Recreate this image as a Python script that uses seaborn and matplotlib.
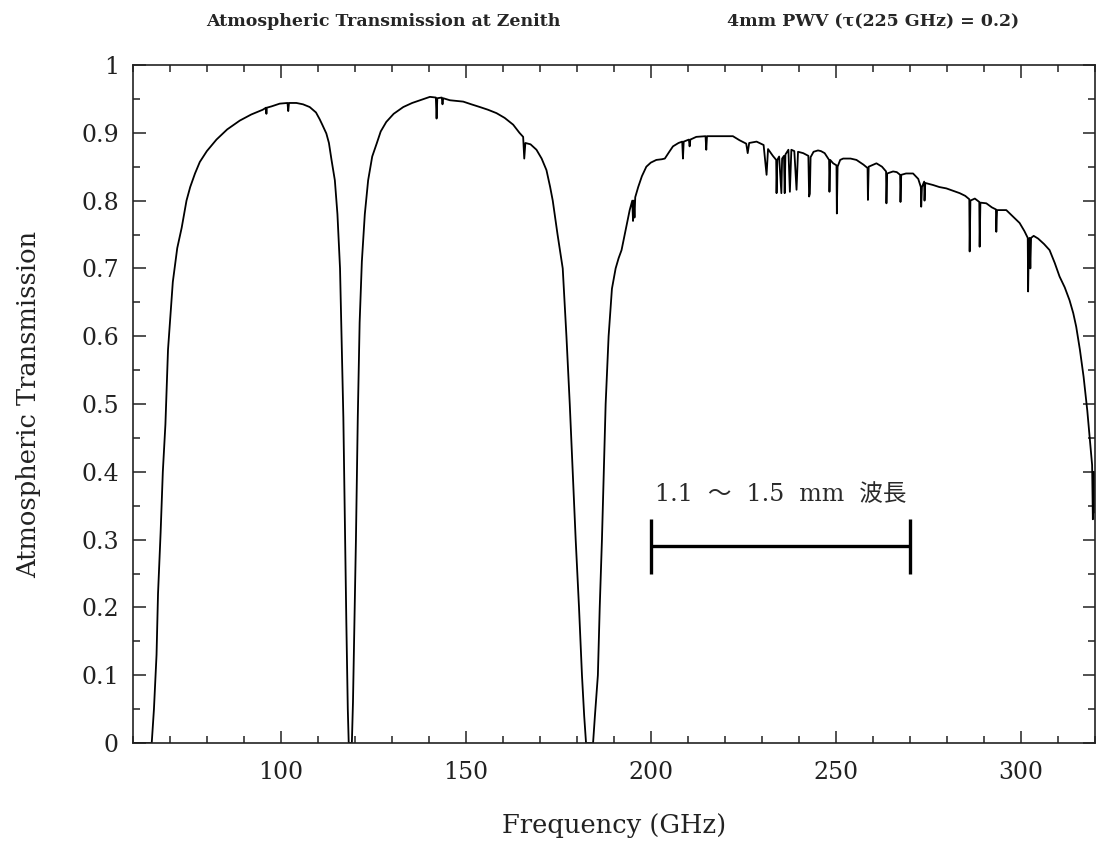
import numpy as np
import pandas as pd
import matplotlib
matplotlib.use("Agg")
import matplotlib.pyplot as plt
from matplotlib.ticker import MultipleLocator, FuncFormatter
import seaborn as sns

# transmission curve (GHz, transmission)
freq = [60.0, 64.8, 65.1, 65.7, 66.4, 66.8, 67.5, 68.1, 68.8, 69.5, 70.8, 72.0, 73.2, 74.5,
        75.5, 76.8, 78.1, 80.0, 82.6, 85.5, 88.9, 92.0, 95.1, 96.0, 96.1, 96.2, 97.5, 99.7,
        101.8, 102.0, 102.2, 104.2, 106.0, 107.8, 109.5, 110.5, 111.2, 112.3, 113.0,
        113.7, 114.6, 115.3, 116.0, 116.5, 116.9, 117.3, 117.7, 118.1, 118.35,
        119.2, 119.5, 119.9, 120.3, 120.8, 121.3, 121.9, 122.7, 123.6, 124.7, 125.9,
        127.0, 128.5, 130.5, 133.1, 135.5, 137.6, 140.3, 141.9, 142.1, 142.3, 143.5,
        143.7, 143.9, 145.7, 147.5, 149.3, 151.5, 153.8, 156.0, 158.3, 160.5, 162.8,
        164.5, 165.5, 165.8, 166.1, 167.5, 169.1, 170.5, 171.8, 172.8, 173.5, 174.8,
        176.2, 177.2, 178.1, 178.9, 179.7, 180.6, 181.4, 182.0, 182.5,
        184.4, 184.9, 185.7, 186.2, 186.8, 187.3, 187.8, 188.6, 189.5, 190.5, 191.3,
        192.1, 193.4, 194.3, 195.0, 195.2, 195.4, 195.6, 195.8, 196.6, 197.6, 198.8,
        200.0, 201.5, 203.0, 203.8, 205.0, 206.0, 207.5, 208.5, 208.7, 208.9, 210.3,
        210.5, 210.7, 212.3, 214.8, 215.0, 215.2, 218.6, 222.2, 224.0, 225.8, 226.2,
        226.6, 228.6, 230.5, 231.3, 231.7,
        233.0, 233.9, 234.0, 234.2, 234.7, 235.3, 235.5, 236.0, 236.2, 236.4, 237.2,
        237.6, 238.0, 238.8, 239.4, 239.8, 241.2, 242.6, 242.8, 243.0, 243.2, 244.0,
        245.2, 246.0, 247.0, 248.2, 248.3, 248.5, 249.3, 250.2, 250.3, 250.5, 251.2,
        252.0, 254.0, 255.6, 257.5, 258.6, 258.7, 258.9, 261.0, 262.5, 263.6, 263.7,
        263.9, 265.5, 266.5, 267.4, 267.5, 267.7, 269.0, 270.9, 272.3, 273.0, 273.1,
        273.3, 273.9, 274.0, 274.2, 276.3, 278.0, 279.9, 282.0, 283.5, 285.0, 286.1,
        286.2, 286.4, 287.6, 288.8, 288.9, 289.1, 290.7, 292.2, 293.3, 293.4, 293.6,
        296.1, 298.0, 299.7, 301.0, 301.9, 302.0, 302.2, 302.4, 302.6, 302.8, 303.5,
        304.7, 306.3, 307.8, 309.2, 310.5, 311.9, 313.2, 314.2, 315.0, 316.0, 317.0,
        318.0, 318.8, 319.3, 319.5, 319.7, 320.0]
trans = [0.0, 0.0, 0.0, 0.05, 0.13, 0.22, 0.31, 0.40, 0.47, 0.58, 0.68, 0.73, 0.76, 0.80,
         0.82, 0.84, 0.857, 0.873, 0.89, 0.905, 0.918, 0.927, 0.934, 0.937, 0.928, 0.937, 0.939, 0.943,
         0.944, 0.932, 0.944, 0.944, 0.942, 0.938, 0.93, 0.92, 0.912, 0.899, 0.885,
         0.86, 0.83, 0.78, 0.70, 0.58, 0.48, 0.33, 0.18, 0.05, 0.0,
         0.0, 0.06, 0.18, 0.30, 0.48, 0.62, 0.71, 0.78, 0.83, 0.865, 0.884,
         0.902, 0.916, 0.928, 0.938, 0.944, 0.948, 0.953, 0.952, 0.921, 0.951, 0.952,
         0.942, 0.951, 0.948, 0.947, 0.946, 0.942, 0.938, 0.934, 0.929, 0.922, 0.912,
         0.90, 0.894, 0.862, 0.885, 0.883, 0.875, 0.862, 0.845, 0.82, 0.80, 0.75,
         0.70, 0.60, 0.50, 0.40, 0.30, 0.20, 0.10, 0.04, 0.0,
         0.0, 0.04, 0.10, 0.20, 0.30, 0.40, 0.50, 0.60, 0.67, 0.70, 0.715,
         0.727, 0.762, 0.786, 0.80, 0.77, 0.80, 0.775, 0.805, 0.82, 0.836, 0.85,
         0.856, 0.86, 0.861, 0.862, 0.872, 0.88, 0.885, 0.887, 0.862, 0.887, 0.89,
         0.88, 0.89, 0.894, 0.895, 0.875, 0.895, 0.895, 0.895, 0.889, 0.884, 0.87,
         0.885, 0.887, 0.882, 0.838, 0.876,
         0.866, 0.86, 0.811, 0.86, 0.865, 0.811, 0.862, 0.866, 0.811, 0.868, 0.875,
         0.813, 0.875, 0.873, 0.816, 0.872, 0.87, 0.866, 0.806, 0.81, 0.864, 0.872,
         0.874, 0.873, 0.87, 0.86, 0.813, 0.86, 0.855, 0.852, 0.781, 0.85, 0.86,
         0.862, 0.862, 0.86, 0.853, 0.848, 0.801, 0.85, 0.855, 0.85, 0.843, 0.796,
         0.84, 0.843, 0.842, 0.838, 0.798, 0.838, 0.84, 0.84, 0.832, 0.82, 0.791,
         0.82, 0.828, 0.80, 0.826, 0.823, 0.82, 0.818, 0.814, 0.811, 0.807, 0.802,
         0.725, 0.80, 0.803, 0.798, 0.732, 0.797, 0.796, 0.79, 0.787, 0.754, 0.786,
         0.786, 0.776, 0.767, 0.755, 0.745, 0.666, 0.74, 0.745, 0.70, 0.745, 0.748,
         0.744, 0.736, 0.727, 0.708, 0.688, 0.672, 0.653, 0.634, 0.614, 0.58, 0.54,
         0.49, 0.44, 0.41, 0.33, 0.40, 0.34]

# wavelength band marker
band_ghz = [200, 270]
band_level = 0.29
band_cap = [0.25, 0.33]
band_text = "1.1  ～  1.5  mm  波長"

df = pd.DataFrame({"Frequency": freq, "Transmission": trans})

sns.set_style("ticks")
plt.rcParams["font.family"] = ["DejaVu Serif", "Noto Sans CJK JP"]

fig = plt.figure(figsize=(10.98, 8.43), dpi=100)
ax = fig.add_axes([0.121, 0.1186, 0.876, 0.8043])

sns.lineplot(data=df, x="Frequency", y="Transmission", ax=ax, color="black",
             linewidth=1.3, estimator=None, sort=False)

ax.hlines(band_level, band_ghz[0], band_ghz[1], color="black", linewidth=2.4)
ax.vlines(band_ghz, band_cap[0], band_cap[1], color="black", linewidth=2.4)
ax.text(sum(band_ghz) / 2, 0.366, band_text, ha="center", va="center", fontsize=17,
        color="#2a2a2a")

ax.set_xlim(60, 320)
ax.set_ylim(0, 1)
ax.xaxis.set_major_locator(MultipleLocator(50))
ax.xaxis.set_minor_locator(MultipleLocator(10))
ax.yaxis.set_major_locator(MultipleLocator(0.1))
ax.yaxis.set_minor_locator(MultipleLocator(0.05))
ax.yaxis.set_major_formatter(FuncFormatter(lambda v, p: "%g" % round(v, 2)))
ax.tick_params(which="both", direction="in", top=True, right=True, width=1.1,
               colors="#222222", labelsize=17)
ax.tick_params(which="major", length=9)
ax.tick_params(which="minor", length=5)
ax.tick_params(axis="x", pad=13)
ax.tick_params(axis="y", pad=10)
for s in ax.spines.values():
    s.set_linewidth(1.2)
    s.set_color("#222222")

ax.set_xlabel("Frequency (GHz)", fontsize=18.5, color="#222222")
ax.set_ylabel("Atmospheric Transmission", fontsize=18.5, color="#222222")
ax.xaxis.set_label_coords(0.5, -0.103)
ax.yaxis.set_label_coords(-0.095, 0.5)

fig.text(0.1876, 0.974, "Atmospheric Transmission at Zenith", fontsize=12.5,
         fontweight="bold", va="center", ha="left")
fig.text(0.662, 0.974, "4mm PWV (τ(225 GHz) = 0.2)", fontsize=12.5,
         fontweight="bold", va="center", ha="left")

fig.savefig("out.png", dpi=100)
